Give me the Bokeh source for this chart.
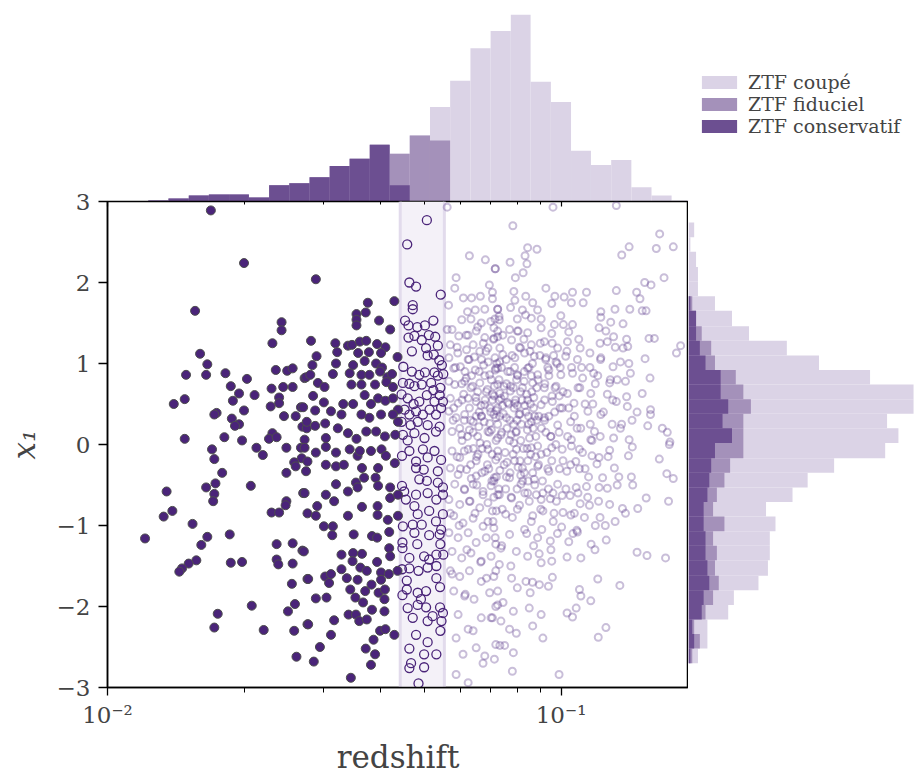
from bokeh.plotting import figure
from bokeh.layouts import column, row
from bokeh.models import (Range1d, FixedTicker, CustomJSTickFormatter, LogAxis,
                          BoxAnnotation, Span, Legend, LegendItem)
from bokeh.embed import file_html
from bokeh.resources import INLINE

# ---------------- data ----------------
# sample limits (redshift)
z_cons_lim = 0.0442
z_fid_lim = 0.0553

# conservative sample (filled points): (redshift, x1)
cons_pts = [
    (0.0169, 2.89), (0.0200, 2.24), (0.0156, 1.65), (0.0242, 1.51), (0.0242, 1.41), (0.0231, 1.25),
    (0.0160, 1.12), (0.0166, 0.99), (0.0149, 0.86), (0.0165, 0.86), (0.0182, 0.88), (0.0203, 0.81),
    (0.0235, 0.92), (0.0249, 0.91), (0.0256, 0.94), (0.0272, 0.82), (0.0187, 0.72), (0.0195, 0.63),
    (0.0189, 0.54), (0.0211, 0.61), (0.0230, 0.69), (0.0244, 0.71), (0.0256, 0.71), (0.0239, 0.58),
    (0.0239, 0.51), (0.0229, 0.47), (0.0140, 0.50), (0.0148, 0.56), (0.0200, 0.42), (0.0174, 0.39),
    (0.0172, 0.37), (0.0188, 0.32), (0.0195, 0.25), (0.0191, 0.23), (0.0245, 0.35), (0.0260, 0.35),
    (0.0267, 0.46), (0.0269, 0.22), (0.0275, 0.20), (0.0148, 0.07), (0.0181, 0.09), (0.0198, 0.05),
    (0.0231, 0.14), (0.0227, 0.07), (0.0236, 0.09),
    (0.0170, -0.06), (0.0213, -0.04), (0.0220, -0.13), (0.0248, -0.04), (0.0267, -0.04), (0.0268, -0.17),
    (0.0258, -0.22), (0.0260, -0.27), (0.0248, -0.35), (0.0172, -0.18), (0.0179, -0.35), (0.0135, -0.58),
    (0.0165, -0.53), (0.0173, -0.48), (0.0172, -0.61), (0.0171, -0.70), (0.0207, -0.51), (0.0270, -0.60),
    (0.0248, -0.70), (0.0247, -0.75), (0.0230, -0.84), (0.0239, -0.84), (0.0139, -0.82), (0.0133, -0.89),
    (0.0154, -0.98), (0.0121, -1.16), (0.0166, -1.14), (0.0161, -1.24), (0.0186, -1.11), (0.0236, -1.23),
    (0.0256, -1.22), (0.0269, -1.31), (0.0157, -1.43), (0.0151, -1.47), (0.0146, -1.53), (0.0144, -1.57),
    (0.0187, -1.46), (0.0198, -1.45), (0.0236, -1.42), (0.0238, -1.48), (0.0256, -1.47), (0.0255, -1.72),
    (0.0208, -1.99), (0.0175, -2.09), (0.0172, -2.26), (0.0221, -2.29), (0.0250, -2.06), (0.0259, -1.97),
    (0.0258, -2.30), (0.0261, -2.62), (0.0276, -1.66), (0.0276, -2.22),
    (0.0288, 2.04), (0.0375, 1.75), (0.0429, 1.77), (0.0354, 1.61), (0.0371, 1.63), (0.0354, 1.54),
    (0.0354, 1.47), (0.0397, 1.53), (0.0420, 1.42), (0.0281, 1.28), (0.0289, 1.09), (0.0283, 0.98),
    (0.0318, 1.25), (0.0321, 1.14), (0.0339, 1.22), (0.0346, 1.23), (0.0360, 1.27), (0.0372, 1.28),
    (0.0393, 1.24), (0.0410, 1.20), (0.0357, 1.13), (0.0377, 1.14), (0.0401, 1.13), (0.0436, 1.08),
    (0.0319, 1.00), (0.0348, 0.98), (0.0369, 1.03), (0.0391, 1.00), (0.0403, 0.95), (0.0274, 0.83),
    (0.0280, 0.86), (0.0291, 0.76), (0.0314, 0.87), (0.0342, 0.88), (0.0363, 0.86), (0.0378, 0.86),
    (0.0399, 0.90), (0.0414, 0.83), (0.0424, 0.87), (0.0345, 0.74), (0.0363, 0.74), (0.0389, 0.74),
    (0.0412, 0.77), (0.0426, 0.71), (0.0301, 0.71), (0.0284, 0.60), (0.0300, 0.52), (0.0270, 0.46),
    (0.0287, 0.42), (0.0311, 0.41), (0.0331, 0.50), (0.0348, 0.50), (0.0369, 0.61), (0.0381, 0.50),
    (0.0395, 0.57), (0.0410, 0.54), (0.0426, 0.57), (0.0437, 0.43), (0.0328, 0.37), (0.0363, 0.37),
    (0.0378, 0.33), (0.0401, 0.37), (0.0426, 0.37), (0.0437, 0.28), (0.0275, 0.28), (0.0287, 0.23),
    (0.0302, 0.26), (0.0322, 0.20), (0.0339, 0.14), (0.0372, 0.16), (0.0391, 0.16), (0.0409, 0.10),
    (0.0431, 0.12), (0.0303, 0.08), (0.0354, 0.07), (0.0272, 0.06),
    (0.0272, -0.04), (0.0288, -0.10), (0.0303, -0.03), (0.0319, -0.10), (0.0342, -0.06), (0.0356, -0.14),
    (0.0360, -0.08), (0.0381, -0.08), (0.0402, -0.06), (0.0411, -0.14), (0.0276, -0.21), (0.0303, -0.25),
    (0.0319, -0.27), (0.0332, -0.25), (0.0364, -0.29), (0.0395, -0.29), (0.0430, -0.23), (0.0274, -0.33),
    (0.0368, -0.41), (0.0390, -0.41), (0.0319, -0.49), (0.0353, -0.47), (0.0339, -0.58), (0.0356, -0.53),
    (0.0395, -0.51), (0.0420, -0.53), (0.0272, -0.60), (0.0303, -0.62), (0.0420, -0.66), (0.0437, -0.62),
    (0.0316, -0.70), (0.0290, -0.76), (0.0276, -0.85), (0.0288, -0.88), (0.0339, -0.88), (0.0364, -0.77),
    (0.0394, -0.76), (0.0394, -0.87), (0.0415, -0.93), (0.0437, -0.88), (0.0300, -1.01), (0.0314, -1.01),
    (0.0313, -1.12), (0.0349, -1.11), (0.0383, -1.13), (0.0393, -1.15), (0.0418, -1.08), (0.0271, -1.32),
    (0.0328, -1.36), (0.0348, -1.34), (0.0347, -1.44), (0.0364, -1.35), (0.0393, -1.45), (0.0418, -1.28),
    (0.0420, -1.38), (0.0328, -1.54), (0.0361, -1.52), (0.0373, -1.56), (0.0401, -1.58), (0.0417, -1.60),
    (0.0436, -1.56), (0.0277, -1.66), (0.0302, -1.63), (0.0311, -1.60), (0.0308, -1.71), (0.0337, -1.65),
    (0.0356, -1.67), (0.0382, -1.73), (0.0401, -1.67), (0.0343, -1.79), (0.0370, -1.81), (0.0396, -1.83),
    (0.0409, -1.79), (0.0288, -1.90), (0.0304, -1.89), (0.0352, -1.89), (0.0366, -1.95), (0.0408, -1.91),
    (0.0340, -2.10), (0.0353, -2.10), (0.0383, -2.04), (0.0408, -2.06), (0.0277, -2.22), (0.0316, -2.17),
    (0.0359, -2.18), (0.0373, -2.16), (0.0399, -2.30), (0.0410, -2.28), (0.0429, -2.35), (0.0311, -2.35),
    (0.0386, -2.41), (0.0294, -2.50), (0.0371, -2.52), (0.0389, -2.59), (0.0381, -2.72), (0.0285, -2.68),
    (0.0344, -2.88),
]

# fiducial-only sample (open circles inside the band)
fid_pts = [
    (0.0506, 2.77), (0.0458, 2.47), (0.0463, 2.00), (0.0479, 1.95), (0.0543, 1.85), (0.0471, 1.72),
    (0.0471, 1.67), (0.0453, 1.53), (0.0461, 1.47), (0.0482, 1.45), (0.0501, 1.47), (0.0523, 1.53),
    (0.0461, 1.32), (0.0475, 1.34), (0.0493, 1.29), (0.0511, 1.35), (0.0528, 1.33), (0.0535, 1.22),
    (0.0469, 1.15), (0.0504, 1.19), (0.0508, 1.10), (0.0524, 1.11), (0.0539, 1.04), (0.0546, 0.98),
    (0.0449, 0.96), (0.0469, 0.90), (0.0487, 0.86), (0.0501, 0.89), (0.0526, 0.89), (0.0535, 0.85),
    (0.0550, 0.87), (0.0448, 0.76), (0.0463, 0.75), (0.0475, 0.72), (0.0493, 0.74), (0.0517, 0.76),
    (0.0523, 0.67), (0.0542, 0.70), (0.0445, 0.62), (0.0459, 0.57), (0.0473, 0.50), (0.0487, 0.53),
    (0.0506, 0.61), (0.0526, 0.53), (0.0540, 0.61), (0.0549, 0.53), (0.0452, 0.43), (0.0463, 0.37),
    (0.0479, 0.41), (0.0496, 0.37), (0.0513, 0.43), (0.0530, 0.37), (0.0544, 0.45), (0.0445, 0.28),
    (0.0466, 0.24), (0.0483, 0.28), (0.0508, 0.24), (0.0540, 0.22), (0.0448, 0.12), (0.0475, 0.14),
    (0.0500, 0.08), (0.0530, 0.16), (0.0459, 0.05),
    (0.0446, -0.14), (0.0463, -0.08), (0.0479, -0.21), (0.0496, -0.06), (0.0508, -0.16), (0.0526, -0.08),
    (0.0544, -0.19), (0.0479, -0.29), (0.0498, -0.31), (0.0535, -0.33), (0.0487, -0.43), (0.0506, -0.45),
    (0.0535, -0.47), (0.0549, -0.53), (0.0446, -0.51), (0.0451, -0.58), (0.0479, -0.62), (0.0508, -0.60),
    (0.0531, -0.68), (0.0549, -0.62), (0.0455, -0.68), (0.0475, -0.76), (0.0512, -0.82), (0.0483, -0.86),
    (0.0549, -0.86), (0.0448, -1.01), (0.0471, -0.99), (0.0493, -0.99), (0.0530, -0.95), (0.0544, -1.05),
    (0.0475, -1.09), (0.0512, -1.12), (0.0540, -1.11), (0.0447, -1.21), (0.0447, -1.28), (0.0482, -1.23),
    (0.0542, -1.23), (0.0463, -1.40), (0.0499, -1.38), (0.0531, -1.36), (0.0550, -1.36), (0.0512, -1.42),
    (0.0446, -1.54), (0.0463, -1.53), (0.0485, -1.56), (0.0508, -1.52), (0.0531, -1.50), (0.0457, -1.68),
    (0.0531, -1.65), (0.0541, -1.76), (0.0457, -1.79), (0.0483, -1.83), (0.0504, -1.81), (0.0447, -1.86),
    (0.0491, -1.91), (0.0483, -1.98), (0.0504, -2.01), (0.0459, -2.02), (0.0541, -2.01), (0.0549, -2.08),
    (0.0471, -2.14), (0.0521, -2.12), (0.0545, -2.18), (0.0508, -2.18), (0.0542, -2.30), (0.0479, -2.35),
    (0.0508, -2.44), (0.0463, -2.52), (0.0499, -2.59), (0.0531, -2.59), (0.0467, -2.70), (0.0463, -2.76),
    (0.0499, -2.75), (0.0485, -2.95),
]

# cut sample (light open circles)
cut_pts = [
    (0.0561, 2.93), (0.0628, 2.33), (0.0681, 2.28), (0.0716, 2.17), (0.0587, 2.06), (0.0583, 1.93),
    (0.0695, 1.97), (0.0706, 1.88), (0.0609, 1.81), (0.0635, 1.81), (0.0664, 1.83), (0.0706, 1.80),
    (0.0565, 1.72), (0.0622, 1.64), (0.0647, 1.66), (0.0679, 1.67), (0.0725, 1.67), (0.0604, 1.54),
    (0.0633, 1.55), (0.0667, 1.50), (0.0700, 1.52), (0.0731, 1.54), (0.0561, 1.42), (0.0575, 1.42),
    (0.0595, 1.34), (0.0624, 1.35), (0.0650, 1.40), (0.0679, 1.32), (0.0711, 1.31), (0.0725, 1.40),
    (0.0570, 1.23), (0.0592, 1.13), (0.0619, 1.17), (0.0640, 1.23), (0.0662, 1.15), (0.0690, 1.19),
    (0.0715, 1.07), (0.0733, 1.19), (0.0566, 1.07), (0.0580, 0.94), (0.0600, 0.96), (0.0624, 1.05),
    (0.0647, 0.92), (0.0675, 0.98), (0.0696, 0.86), (0.0725, 0.94), (0.0566, 0.78), (0.0583, 0.74),
    (0.0613, 0.78), (0.0633, 0.70), (0.0662, 0.76), (0.0684, 0.65), (0.0713, 0.72), (0.0733, 0.63),
    (0.0570, 0.57), (0.0593, 0.51), (0.0624, 0.57), (0.0650, 0.53), (0.0679, 0.49), (0.0706, 0.55),
    (0.0725, 0.45), (0.0566, 0.41), (0.0587, 0.33), (0.0613, 0.37), (0.0640, 0.28), (0.0667, 0.35),
    (0.0696, 0.26), (0.0718, 0.33), (0.0575, 0.16), (0.0604, 0.12), (0.0628, 0.18), (0.0655, 0.10),
    (0.0690, 0.16), (0.0725, 0.08),
    (0.0575, -0.08), (0.0598, -0.16), (0.0624, -0.06), (0.0656, -0.12), (0.0690, -0.06), (0.0718, -0.19),
    (0.0570, -0.29), (0.0593, -0.37), (0.0619, -0.31), (0.0650, -0.39), (0.0679, -0.33), (0.0713, -0.41),
    (0.0583, -0.49), (0.0613, -0.56), (0.0640, -0.49), (0.0673, -0.58), (0.0701, -0.51), (0.0731, -0.62),
    (0.0566, -0.68), (0.0598, -0.74), (0.0628, -0.70), (0.0662, -0.78), (0.0690, -0.72), (0.0720, -0.82),
    (0.0580, -0.88), (0.0608, -0.97), (0.0640, -0.91), (0.0673, -1.01), (0.0708, -0.95), (0.0566, -1.09),
    (0.0593, -1.15), (0.0624, -1.09), (0.0650, -1.21), (0.0684, -1.15), (0.0718, -1.23), (0.0575, -1.32),
    (0.0604, -1.40), (0.0633, -1.34), (0.0667, -1.44), (0.0701, -1.38), (0.0731, -1.48), (0.0570, -1.56),
    (0.0598, -1.63), (0.0628, -1.56), (0.0667, -1.69), (0.0711, -1.63), (0.0580, -1.81), (0.0613, -1.87),
    (0.0643, -1.91), (0.0696, -1.83), (0.0725, -1.98), (0.0593, -2.10), (0.0667, -2.14), (0.0624, -2.28),
    (0.0640, -2.30), (0.0701, -2.14), (0.0587, -2.39), (0.0650, -2.51), (0.0608, -2.59), (0.0679, -2.61),
    (0.0718, -2.47), (0.0673, -2.70), (0.0587, -2.84), (0.0624, -2.94),
    (0.0960, 2.93), (0.1324, 2.95), (0.0783, 2.70), (0.1650, 2.60), (0.1768, 2.44), (0.1622, 2.42),
    (0.1413, 2.44), (0.1361, 2.34), (0.0844, 2.43), (0.0885, 2.41), (0.0833, 2.33), (0.0841, 2.23),
    (0.0772, 2.25), (0.0716, 2.17), (0.0825, 2.12), (0.0793, 2.06), (0.1687, 2.06), (0.1529, 2.00),
    (0.1579, 1.97), (0.0926, 1.93), (0.1324, 1.90), (0.1468, 1.88), (0.1493, 1.80), (0.0787, 1.89),
    (0.1060, 1.88), (0.1138, 1.88), (0.0969, 1.83), (0.1016, 1.82), (0.0791, 1.78), (0.0836, 1.83),
    (0.0866, 1.75), (0.0954, 1.74), (0.1054, 1.75), (0.1119, 1.75), (0.0725, 1.67), (0.0774, 1.69),
    (0.0822, 1.66), (0.0888, 1.66), (0.1224, 1.64), (0.1315, 1.67), (0.1418, 1.67), (0.1510, 1.65),
    (0.1540, 1.65), (0.0730, 1.58), (0.0801, 1.55), (0.0860, 1.56), (0.0904, 1.55), (0.0999, 1.59),
    (0.1224, 1.57), (0.1287, 1.51), (0.1370, 1.49), (0.0967, 1.48), (0.1012, 1.48), (0.1060, 1.48),
    (0.1213, 1.44), (0.1256, 1.40), (0.0711, 1.44), (0.0770, 1.42), (0.0801, 1.40), (0.0844, 1.38),
    (0.0904, 1.44), (0.0954, 1.37), (0.1040, 1.39), (0.1306, 1.33), (0.1395, 1.30), (0.1563, 1.31),
    (0.1606, 1.31), (0.1835, 1.22), (0.1797, 1.13), (0.0725, 1.33), (0.0778, 1.29), (0.0814, 1.19),
    (0.0860, 1.23), (0.0919, 1.27), (0.0983, 1.19), (0.1033, 1.27), (0.1102, 1.19), (0.1219, 1.25),
    (0.1265, 1.27), (0.1317, 1.20), (0.1370, 1.19), (0.1403, 1.21), (0.1532, 1.06), (0.0744, 1.11),
    (0.0791, 1.07), (0.0831, 1.13), (0.0873, 1.09), (0.0926, 1.07), (0.0975, 1.02), (0.1024, 1.09),
    (0.1087, 1.05), (0.1158, 1.13), (0.1224, 1.07), (0.1302, 0.96), (0.1352, 1.02), (0.1411, 1.00),
    (0.1571, 0.82), (0.0718, 0.94), (0.0763, 0.90), (0.0801, 0.86), (0.0844, 0.94), (0.0888, 0.86),
    (0.0940, 0.92), (0.0999, 0.86), (0.1060, 0.88), (0.1116, 0.82), (0.1180, 0.88), (0.1280, 0.76),
    (0.1330, 0.80), (0.1387, 0.78), (0.1422, 0.88), (0.0725, 0.74), (0.0774, 0.72), (0.0822, 0.70),
    (0.0866, 0.76), (0.0919, 0.70), (0.0975, 0.72), (0.1033, 0.63), (0.1090, 0.70), (0.1163, 0.63),
    (0.1265, 0.62), (0.1324, 0.53), (0.1395, 0.59), (0.1510, 0.63), (0.0737, 0.57), (0.0791, 0.51),
    (0.0844, 0.55), (0.0904, 0.49), (0.0957, 0.53), (0.1006, 0.45), (0.1068, 0.51), (0.1146, 0.41),
    (0.1224, 0.37), (0.1400, 0.47), (0.1471, 0.40), (0.1575, 0.43), (0.1575, 0.37), (0.0711, 0.37),
    (0.0758, 0.33), (0.0808, 0.37), (0.0860, 0.28), (0.0919, 0.33), (0.0983, 0.24), (0.1050, 0.28),
    (0.1105, 0.20), (0.1185, 0.16), (0.1296, 0.25), (0.1352, 0.20), (0.1434, 0.30), (0.1553, 0.23),
    (0.1672, 0.20), (0.1715, 0.15), (0.0737, 0.12), (0.0797, 0.16), (0.0852, 0.08), (0.0950, 0.10),
    (0.1054, 0.06), (0.1163, 0.06), (0.1306, 0.08), (0.1413, 0.06), (0.1738, 0.03),
    (0.0725, -0.08), (0.0797, -0.06), (0.0860, -0.04), (0.0904, -0.12), (0.0954, -0.04), (0.1006, -0.06),
    (0.1054, -0.02), (0.1098, -0.06), (0.1170, -0.14), (0.1213, -0.16), (0.1280, -0.07), (0.1408, -0.14),
    (0.1436, -0.03), (0.1647, -0.18), (0.1733, 0.00), (0.1078, -0.21), (0.1200, -0.24), (0.1311, -0.29),
    (0.1711, -0.36), (0.1768, -0.42), (0.0749, -0.25), (0.0822, -0.29), (0.0888, -0.27), (0.0940, -0.33),
    (0.1030, -0.33), (0.1098, -0.30), (0.1235, -0.41), (0.1341, -0.40), (0.1429, -0.40), (0.1439, -0.50),
    (0.0711, -0.45), (0.0770, -0.41), (0.0816, -0.49), (0.0873, -0.43), (0.0983, -0.49), (0.1080, -0.53),
    (0.1138, -0.52), (0.1213, -0.53), (0.1265, -0.54), (0.0725, -0.62), (0.0778, -0.66), (0.0844, -0.60),
    (0.0904, -0.68), (0.0947, -0.67), (0.1006, -0.63), (0.1047, -0.63), (0.1541, -0.66), (0.1726, -0.70),
    (0.1102, -0.73), (0.1155, -0.75), (0.1280, -0.74), (0.1366, -0.79), (0.1387, -0.85), (0.1476, -0.79),
    (0.0706, -0.82), (0.0755, -0.86), (0.0801, -0.80), (0.0866, -0.88), (0.0912, -0.82), (0.1010, -0.84),
    (0.1051, -0.87), (0.1219, -0.90), (0.0961, -0.95), (0.1003, -1.02), (0.1083, -1.06), (0.1087, -1.08),
    (0.1165, -1.23), (0.1258, -1.18), (0.0711, -1.03), (0.0770, -1.11), (0.0831, -1.05), (0.0888, -1.15),
    (0.0947, -1.19), (0.1040, -1.20), (0.0737, -1.28), (0.0797, -1.32), (0.0844, -1.38), (0.0904, -1.46),
    (0.0954, -1.44), (0.1031, -1.39), (0.1106, -1.40), (0.1471, -1.33), (0.1547, -1.37), (0.1700, -1.40),
    (0.0718, -1.56), (0.0778, -1.65), (0.0837, -1.69), (0.0896, -1.73), (0.0957, -1.64), (0.0938, -1.75),
    (0.1205, -1.66), (0.1348, -1.74), (0.0725, -1.81), (0.0801, -1.77), (0.0855, -1.83), (0.1098, -1.79),
    (0.1106, -1.87), (0.1163, -1.93), (0.0718, -2.00), (0.0785, -2.06), (0.0851, -2.02), (0.0904, -2.10),
    (0.1031, -2.08), (0.1060, -2.13), (0.1080, -2.02), (0.0706, -2.14), (0.0737, -2.18), (0.0797, -2.33),
    (0.0866, -2.24), (0.0770, -2.28), (0.0912, -2.39), (0.1256, -2.26), (0.1208, -2.38), (0.0733, -2.48),
    (0.0751, -2.48), (0.0785, -2.57), (0.0713, -2.65), (0.0781, -2.80), (0.0990, -2.84),
    (0.0580, 0.45), (0.0610, 0.62), (0.0640, 0.15), (0.0670, -0.05), (0.0700, 0.40), (0.0730, 0.80),
    (0.0760, 0.20), (0.0790, -0.20), (0.0820, 0.55), (0.0850, 0.95), (0.0880, 0.10), (0.0910, -0.45),
    (0.0940, 0.35), (0.0970, 0.70), (0.0600, -0.30), (0.0630, -0.70), (0.0660, 0.90), (0.0690, -0.95),
    (0.0720, -0.40), (0.0750, 0.60), (0.0780, 1.10), (0.0810, -0.75), (0.0840, -1.10), (0.0870, 0.45),
    (0.0900, 1.25), (0.0930, -0.10), (0.0960, -0.60), (0.0990, 0.15), (0.0590, 1.20), (0.0620, -1.30),
    (0.0650, -0.20), (0.0680, 0.55), (0.0710, 1.30), (0.0740, -1.25), (0.0770, 0.05), (0.0800, 0.30),
    (0.0830, -0.35), (0.0860, -0.95), (0.0890, 0.80), (0.0920, 0.55), (0.0950, -1.30), (0.0980, 1.00),
    (0.1010, -0.20), (0.1040, 0.45), (0.1070, -0.85), (0.1100, 0.70), (0.1130, -0.30), (0.1160, 0.25),
    (0.1190, -1.00), (0.1220, 0.10), (0.0570, -0.85), (0.0605, 0.05), (0.0635, 0.85), (0.0665, -1.45),
    (0.0695, 0.15), (0.0725, -0.15), (0.0755, -0.55), (0.0785, 0.70), (0.0815, 0.05), (0.0845, -0.20),
    (0.0875, -0.50), (0.0905, 0.20), (0.0935, 0.95), (0.0965, -0.85), (0.0995, 0.45), (0.0575, -1.60),
    (0.0615, -1.85), (0.0655, 1.45), (0.0685, -1.65), (0.0715, 1.55), (0.0745, -1.95), (0.0775, -1.50),
    (0.0805, 1.40), (0.0835, 1.60), (0.0865, -1.70), (0.0895, -1.35), (0.0925, 1.05), (0.0955, 0.60),
    (0.1025, -0.55), (0.1055, 0.95), (0.1085, 0.20), (0.1115, -0.10), (0.1145, -0.65), (0.1175, 0.50),
    (0.1205, 0.85), (0.0612, 0.30), (0.0668, 0.35), (0.0732, 0.35), (0.0788, 0.45), (0.0848, 0.25),
    (0.0712, 0.60), (0.0772, -0.35), (0.0832, -0.60), (0.0892, -0.25), (0.0652, -0.50), (0.0742, -0.80),
    (0.0802, 0.85), (0.0862, 0.65),
    (0.0585, 0.95), (0.0598, 0.20), (0.0612, -0.55), (0.0627, 1.05), (0.0641, -0.05), (0.0655, 0.65),
    (0.0669, -0.35), (0.0683, 1.15), (0.0697, 0.45), (0.0711, -0.65), (0.0725, 0.25), (0.0739, 0.95),
    (0.0753, -0.10), (0.0767, 0.50), (0.0781, -0.90), (0.0795, 0.15), (0.0809, 1.20), (0.0823, -0.45),
    (0.0837, 0.40), (0.0851, -0.70), (0.0865, 1.00), (0.0879, -0.15), (0.0893, 0.35), (0.0907, -1.05),
    (0.0921, 0.75), (0.0935, -0.30), (0.0949, 0.10), (0.0963, 1.10), (0.0977, -0.70), (0.0991, 0.60),
    (0.0590, -0.15), (0.0604, 0.75), (0.0618, 1.35), (0.0632, 0.30), (0.0646, -0.85), (0.0660, 0.40),
    (0.0674, 1.25), (0.0688, -0.25), (0.0702, 0.80), (0.0716, -1.15), (0.0730, 0.55), (0.0744, 1.35),
    (0.0758, -0.40), (0.0772, 0.90), (0.0786, 0.25), (0.0800, -0.55), (0.0814, 0.65), (0.0828, 1.30),
    (0.0842, -0.05), (0.0856, 0.50), (0.0870, -1.25), (0.0884, 0.30), (0.0898, 1.10), (0.0912, -0.60),
    (0.0926, 0.15), (0.0940, 0.85), (0.0954, -0.20), (0.0968, 0.40), (0.0982, -1.10), (0.0996, 0.95),
    (0.0578, 0.30), (0.0596, -1.00), (0.0614, 0.90), (0.0632, -0.25), (0.0650, 0.35), (0.0668, 1.05),
    (0.0686, 0.00), (0.0704, -0.45), (0.0722, 1.00), (0.0740, 0.15), (0.0758, 0.75), (0.0776, -0.65),
    (0.0794, 0.55), (0.0812, -0.20), (0.0830, 0.90), (0.0848, 0.35), (0.0866, -0.35), (0.0884, 0.70),
    (0.0902, -0.80), (0.0920, 0.30), (0.0938, -0.55), (0.0956, 1.25), (0.0974, 0.00), (0.0992, -0.30),
    (0.1010, 0.65), (0.1030, 1.15), (0.1050, -0.25), (0.1070, 0.35), (0.1090, -0.60), (0.1110, 0.95),
    (0.1130, 0.50), (0.1150, -0.40), (0.1170, 0.05), (0.1190, 0.75), (0.1210, -0.70), (0.1240, 0.40),
    (0.1270, -0.15), (0.1300, 0.55), (0.1330, -0.50), (0.1360, 0.25), (0.1034, 0.10), (0.1062, -1.10),
    (0.1094, 1.30), (0.1126, -0.90), (0.1158, 0.95), (0.1188, -1.30), (0.1222, 1.05), (0.1252, -1.00),
    (0.1284, 0.80), (0.1316, -0.95),
    (0.0605, 0.55), (0.0622, 0.10), (0.0638, 0.72), (0.0652, -0.15), (0.0666, 0.48), (0.0679, 0.85),
    (0.0693, -0.30), (0.0706, 0.62), (0.0719, 0.05), (0.0732, 1.02), (0.0746, 0.38), (0.0760, -0.22),
    (0.0773, 0.66), (0.0787, 0.02), (0.0801, 0.48), (0.0815, -0.38), (0.0829, 0.78), (0.0843, 0.18),
    (0.0857, -0.12), (0.0871, 0.58), (0.0612, -0.08), (0.0628, 0.45), (0.0644, 1.08), (0.0659, 0.22),
    (0.0673, -0.62), (0.0688, 0.68), (0.0702, 0.18), (0.0716, 0.92), (0.0729, -0.55), (0.0743, 0.48),
    (0.0757, 1.05), (0.0771, 0.30), (0.0784, -0.12), (0.0798, 0.80), (0.0812, 0.38), (0.0826, -0.05),
    (0.0840, 0.62), (0.0854, 1.15), (0.0868, 0.20), (0.0882, -0.62), (0.0618, 0.82), (0.0634, -0.42),
    (0.0649, 0.58), (0.0663, 0.02), (0.0677, 0.28), (0.0691, 1.02), (0.0705, -0.12), (0.0719, 0.42),
    (0.0733, -0.32), (0.0748, 0.72), (0.0762, 0.52), (0.0776, 0.12), (0.0790, 0.95), (0.0804, -0.28),
    (0.0818, 0.25), (0.0832, 0.48), (0.0846, -0.45), (0.0860, 0.85), (0.0874, 0.35), (0.0888, -0.02),
]

# redshift histogram (top): bin edges and counts per sample
z_edges = [0.0123, 0.01363, 0.01511, 0.01673, 0.01854, 0.0205, 0.02272, 0.02517, 0.0279, 0.0309,
           0.03419, 0.03787, 0.04188, 0.04639, 0.05141, 0.05695, 0.06313, 0.06994, 0.07749, 0.08568,
           0.09497, 0.1052, 0.1164, 0.129, 0.1429, 0.1583, 0.1753, 0.1942]
z_counts_cut = [1, 3, 6, 7, 7, 4, 16, 18, 24, 35, 42, 56, 47, 65, 93, 119, 151, 168, 184, 118, 98, 50, 36, 41, 14, 6, 1]
z_counts_fid = [1, 3, 6, 7, 7, 4, 16, 18, 24, 35, 42, 56, 47, 65, 60, 0, 0, 0, 0, 0, 0, 0, 0, 0, 0, 0, 0]
z_counts_cons = [1, 3, 6, 7, 7, 4, 16, 18, 24, 35, 42, 56, 16, 0, 0, 0, 0, 0, 0, 0, 0, 0, 0, 0, 0, 0, 0]

# x1 histogram (right): bin edges and counts per sample
x1_edges = [-2.70, -2.52, -2.34, -2.16, -1.98, -1.80, -1.62, -1.43, -1.25, -1.07, -0.89, -0.71, -0.53,
            -0.35, -0.17, 0.02, 0.20, 0.38, 0.56, 0.74, 0.92, 1.10, 1.28, 1.46, 1.65, 1.83, 2.01, 2.19,
            2.38, 2.56, 2.74]
x1_counts_cut = [5, 10, 10, 21, 24, 37, 42, 43, 43, 46, 41, 55, 63, 77, 104, 111, 105, 119, 119, 96,
                 69, 52, 32, 23, 14, 5, 5, 4, 1, 3]
x1_counts_fid = [2, 6, 3, 9, 13, 16, 14, 15, 13, 19, 13, 15, 19, 22, 29, 29, 29, 33, 29, 25, 14, 12,
                 7, 4, 2, 0, 0, 0, 0, 0]
x1_counts_cons = [1, 3, 2, 7, 8, 11, 10, 9, 9, 8, 8, 10, 11, 12, 14, 23, 18, 21, 17, 17, 9, 6, 4, 4,
                  1, 0, 0, 0, 0, 0]

labels = ["ZTF coupé", "ZTF fiduciel", "ZTF conservatif"]
x_major = [0.01, 0.1]
x_minor = [0.02, 0.03, 0.04, 0.05, 0.06, 0.07, 0.08, 0.09]
y_ticks = [-3, -2, -1, 0, 1, 2, 3]

# ---------------- style ----------------
FONT = "DejaVu Serif"
LIGHT = "#dbd3e6"
MED = "#a491ba"
DARK = "#6c4f91"
PT = "#4a2479"
PT_EDGE = "#4d4d4d"
CUT_C = "#5b3b8c"
BAND = "#f4f1f8"
BAND_EDGE = "#e2dbec"

FRAME_W, FRAME_H = 581, 486
LEFT, BOTTOM = 107, 86
OVERLAP = 12          # main row slides up under the top histogram's canvas
TOP_H = 201
RIGHT_W = 226

x_range = Range1d(0.01, 0.191)
y_range = Range1d(-3, 3)

def unzip(pts):
    return [p[0] for p in pts], [p[1] for p in pts]

cons_z, cons_x1 = unzip(cons_pts)
fid_z, fid_x1 = unzip(fid_pts)
cut_z, cut_x1 = unzip(cut_pts)

# ---------------- main scatter ----------------
main = figure(frame_width=FRAME_W, frame_height=FRAME_H, x_axis_type="log",
              x_range=x_range, y_range=y_range, output_backend="svg", toolbar_location=None,
              min_border_left=LEFT, min_border_right=0, min_border_top=OVERLAP,
              min_border_bottom=BOTTOM)
main.grid.visible = False
main.outline_line_color = "black"
main.outline_line_width = 1.5
main.border_fill_color = None

main.add_layout(BoxAnnotation(left=z_cons_lim, right=z_fid_lim, fill_color=BAND,
                              fill_alpha=1.0, line_color=None, level="underlay"))
for lim in (z_cons_lim, z_fid_lim):
    main.add_layout(Span(location=lim, dimension="height", line_color=BAND_EDGE,
                         line_width=3, level="underlay"))

main.scatter(cut_z, cut_x1, size=7, marker="circle", fill_color=None,
             line_color=CUT_C, line_alpha=0.33, line_width=2)
main.scatter(fid_z, fid_x1, size=9, marker="circle", fill_color=None,
             line_color=PT, line_width=1.3)
main.scatter(cons_z, cons_x1, size=9, marker="circle", fill_color=PT,
             line_color=PT_EDGE, line_width=1)

log_fmt = CustomJSTickFormatter(code="""
const e = Math.round(Math.log10(tick));
const sup = {"-": "\u207b", "0": "\u2070", "1": "\u00b9", "2": "\u00b2", "3": "\u00b3"};
return "10" + String(e).split("").map(c => sup[c]).join("");
""")
xa = main.xaxis[0]
xa.ticker = FixedTicker(ticks=x_major, minor_ticks=x_minor)
xa.formatter = log_fmt
xa.axis_label = "redshift"
xa.axis_label_text_font = FONT
xa.axis_label_text_font_size = "31px"
xa.axis_label_text_font_style = "normal"
xa.axis_label_standoff = 8
xa.major_label_text_font = FONT
xa.major_label_text_font_size = "23px"
xa.major_label_standoff = 6
xa.major_tick_out = 8
xa.major_tick_in = 0
xa.minor_tick_out = 5
xa.minor_tick_in = 0
xa.axis_line_width = 1.5
xa.major_tick_line_width = 1.3
xa.minor_tick_line_width = 1

ya = main.yaxis[0]
ya.ticker = FixedTicker(ticks=y_ticks)
ya.formatter = CustomJSTickFormatter(code="return tick < 0 ? '\u2212' + Math.abs(tick) : String(tick);")
ya.axis_label = "x\u2081"
ya.axis_label_text_font = FONT
ya.axis_label_text_font_size = "31px"
ya.axis_label_text_font_style = "italic"
ya.axis_label_standoff = 12
ya.major_label_text_font = FONT
ya.major_label_text_font_size = "23px"
ya.major_label_standoff = 8
ya.major_tick_out = 9
ya.major_tick_in = 0
ya.minor_tick_out = 0
ya.minor_tick_in = 0
ya.axis_line_width = 1.5
ya.major_tick_line_width = 1.3

top_ax = LogAxis(ticker=FixedTicker(ticks=x_major, minor_ticks=x_minor),
                 formatter=CustomJSTickFormatter(code="return '';"),
                 major_tick_in=5, major_tick_out=0, minor_tick_in=3, minor_tick_out=0,
                 major_label_standoff=0, major_label_text_font_size="1px",
                 axis_line_color=None, major_tick_line_width=1.2, minor_tick_line_width=1)
main.add_layout(top_ax, "above")

# ---------------- top histogram ----------------
top = figure(frame_width=FRAME_W, frame_height=TOP_H, x_axis_type="log", x_range=x_range,
             y_range=Range1d(0, 198), output_backend="svg", toolbar_location=None,
             x_axis_location=None, y_axis_location=None,
             min_border_left=LEFT, min_border_right=RIGHT_W, min_border_top=0, min_border_bottom=0)
top.grid.visible = False
top.outline_line_color = None

zl, zr = z_edges[:-1], z_edges[1:]
r_cut = top.quad(left=zl, right=zr, bottom=0, top=z_counts_cut, fill_color=LIGHT, line_color=None)
r_fid = top.quad(left=zl, right=zr, bottom=0, top=z_counts_fid, fill_color=MED, line_color=None)
r_cons = top.quad(left=zl, right=zr, bottom=0, top=z_counts_cons, fill_color=DARK, line_color=None)

legend = Legend(items=[LegendItem(label=labels[0], renderers=[r_cut]),
                       LegendItem(label=labels[1], renderers=[r_fid]),
                       LegendItem(label=labels[2], renderers=[r_cons])],
                location=(9, 64), orientation="vertical",
                label_text_font=FONT, label_text_font_size="19px",
                glyph_width=44, glyph_height=16, label_standoff=7, label_height=22,
                spacing=0, padding=0, margin=0, border_line_color=None,
                background_fill_alpha=0)
top.add_layout(legend, "right")

# ---------------- right histogram ----------------
right = figure(frame_width=RIGHT_W, frame_height=FRAME_H, y_range=y_range,
               x_range=Range1d(0, 119.5), output_backend="svg", toolbar_location=None,
               x_axis_location=None, y_axis_location=None,
               min_border_left=0, min_border_right=0, min_border_top=OVERLAP,
               min_border_bottom=BOTTOM)
right.grid.visible = False
right.outline_line_color = None
right.border_fill_color = None

xb, xt = x1_edges[:-1], x1_edges[1:]
right.quad(left=0, right=x1_counts_cut, bottom=xb, top=xt, fill_color=LIGHT, line_color=None)
right.quad(left=0, right=x1_counts_fid, bottom=xb, top=xt, fill_color=MED, line_color=None)
right.quad(left=0, right=x1_counts_cons, bottom=xb, top=xt, fill_color=DARK, line_color=None)

layout = column(top, row(main, right, margin=(-OVERLAP, 0, 0, 0)))

open("out.html", "w").write(file_html(layout, INLINE))
